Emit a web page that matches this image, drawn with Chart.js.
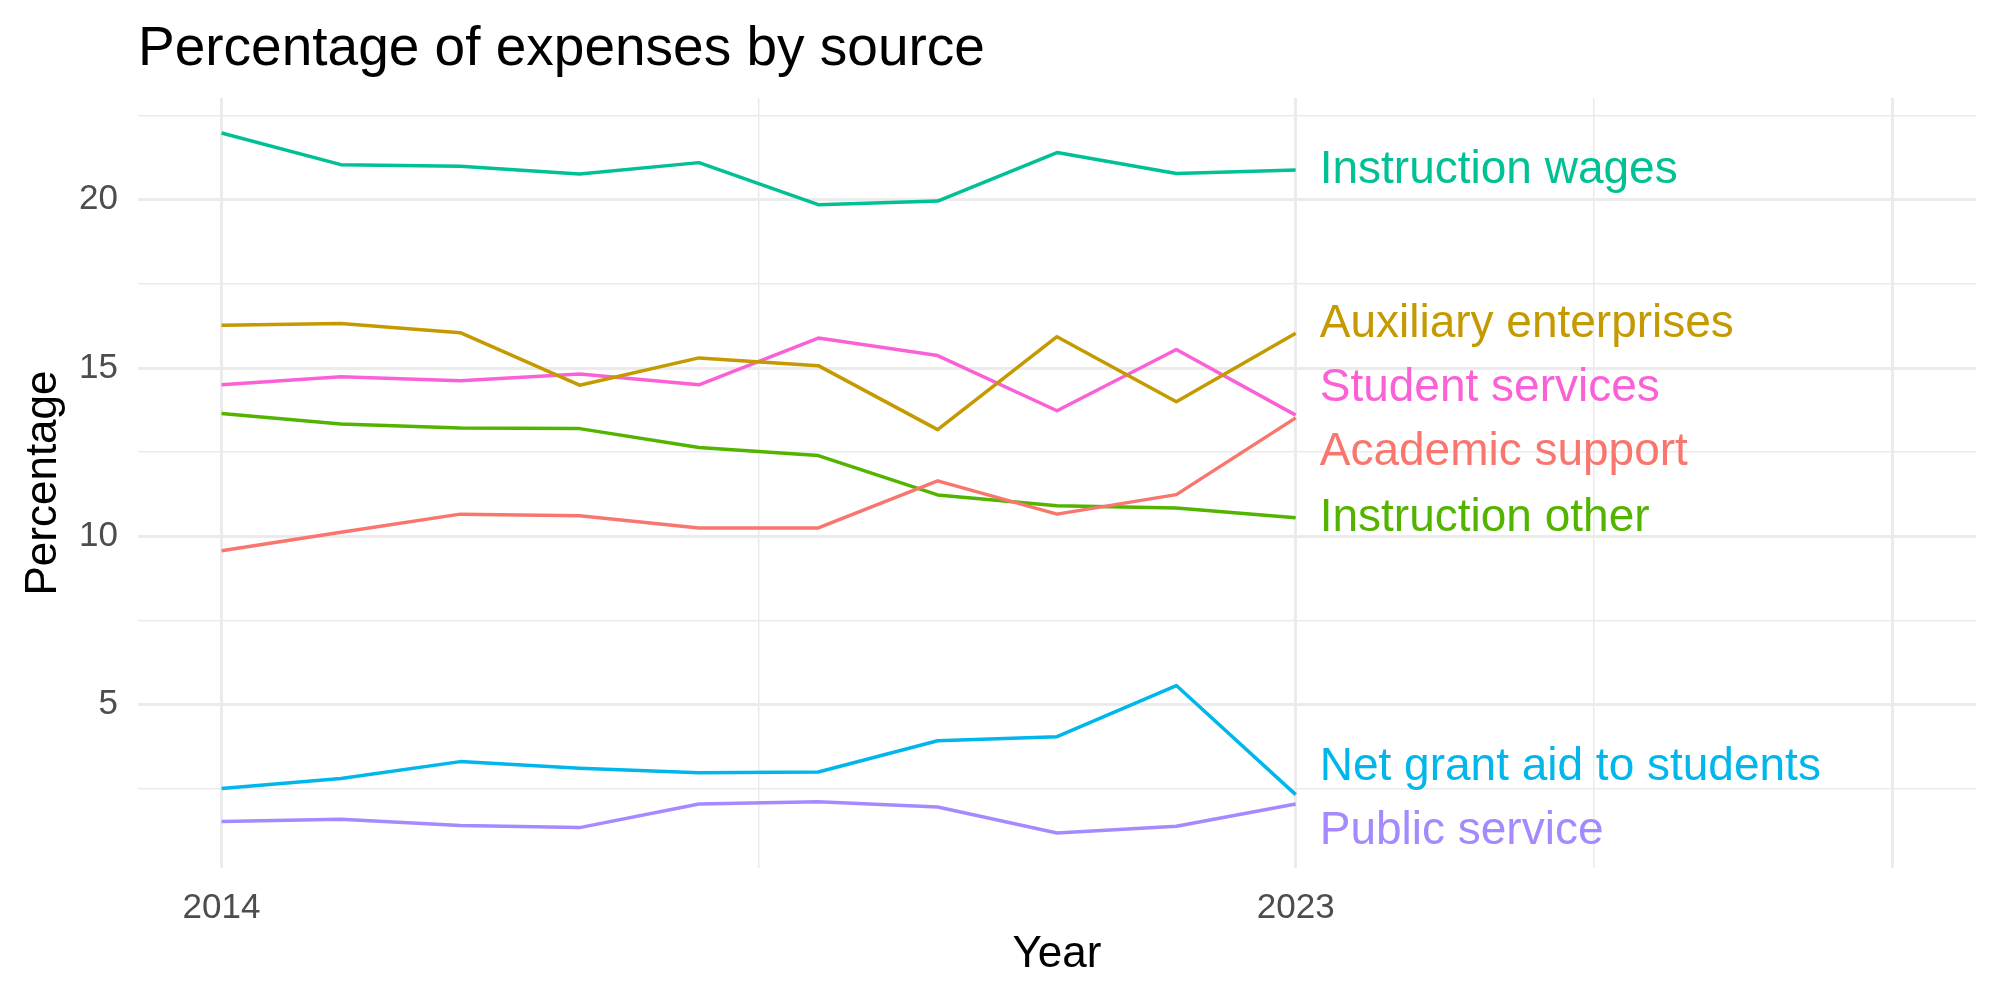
<!DOCTYPE html>
<html>
<head>
<meta charset="utf-8">
<title>Percentage of expenses by source</title>
<script src="https://cdn.jsdelivr.net/npm/chart.js@4.4.1/dist/chart.umd.min.js"></script>
<style>
  html, body { margin: 0; padding: 0; background: #fff; }
  #wrap { width: 2000px; height: 1000px; position: relative; }
</style>
</head>
<body>
<div id="wrap"><canvas id="grafico"></canvas></div>
<script>
// dados
const years = [2014, 2015, 2016, 2017, 2018, 2019, 2020, 2021, 2022, 2023];

const academicSupport  = [9.57, 10.12, 10.66, 10.61, 10.25, 10.25, 11.65, 10.66, 11.24, 13.52];
const auxiliaryEnterp  = [16.27, 16.32, 16.05, 14.49, 15.30, 15.07, 13.17, 15.93, 14.00, 16.03];
const instructionOther = [13.65, 13.34, 13.22, 13.20, 12.64, 12.40, 11.23, 10.91, 10.84, 10.55];
const instructionWages = [21.98, 21.04, 20.99, 20.76, 21.10, 19.85, 19.96, 21.40, 20.78, 20.88];
const netGrantAid      = [2.51, 2.81, 3.31, 3.11, 2.98, 3.00, 3.93, 4.05, 5.57, 2.33];
const publicService    = [1.53, 1.60, 1.41, 1.35, 2.05, 2.12, 1.96, 1.19, 1.39, 2.05];
const studentServices  = [14.50, 14.74, 14.62, 14.82, 14.50, 15.89, 15.37, 13.73, 15.55, 13.60];

const seriesNames = ["Academic support", "Auxiliary enterprises", "Instruction other",
  "Instruction wages", "Net grant aid to students", "Public service", "Student services"];
const seriesValues = [academicSupport, auxiliaryEnterp, instructionOther,
  instructionWages, netGrantAid, publicService, studentServices];
const seriesColors = ["#F8766D", "#C49A00", "#53B400", "#00C094", "#00B6EB", "#A58AFF", "#FB61D7"];

// eixos
const xLimits = [2014, 2028];
const xMajorTicks = [2014, 2023, 2028];
const xMinorTicks = [2018.5, 2025.5];
const xTickLabels = [2014, 2023];
const yMajorTicks = [5, 10, 15, 20];
const yMinorTicks = [2.5, 7.5, 12.5, 17.5, 22.5];

const font = "'Liberation Sans', Arial, sans-serif";

// expansão de 5% como no ggplot
const allVals = seriesValues.flat();
const yLo = Math.min(...allVals), yHi = Math.max(...allVals);
const yPad = (yHi - yLo) * 0.05;
const xPad = (xLimits[1] - xLimits[0]) * 0.05;

const datasets = seriesNames.map((name, i) => ({
  label: name,
  data: years.map((y, j) => ({ x: y, y: seriesValues[i][j] })),
  borderColor: seriesColors[i],
  backgroundColor: seriesColors[i],
  borderWidth: 3.5,
  borderJoinStyle: 'round',
  pointRadius: 0,
  tension: 0,
  fill: false
}));

// rótulos no fim das linhas, afastados na vertical (tipo ggrepel)
const endLabels = {
  id: 'endLabels',
  afterDatasetsDraw(chart) {
    const c = chart.ctx;
    const gap = 64;
    let items = chart.data.datasets.map((ds, i) => {
      const pts = chart.getDatasetMeta(i).data;
      const last = pts[pts.length - 1];
      return { text: ds.label, color: ds.borderColor, x: last.x, y0: last.y, y: last.y };
    });
    items.sort((a, b) => a.y0 - b.y0);
    // agrupa rótulos muito próximos e distribui em volta da média
    let groups = items.map(it => ({ members: [it], center: it.y0 }));
    let changed = true;
    while (changed) {
      changed = false;
      for (let k = 0; k < groups.length - 1; k++) {
        const g1 = groups[k], g2 = groups[k + 1];
        const bottom1 = g1.center + (g1.members.length - 1) * gap / 2;
        const top2 = g2.center - (g2.members.length - 1) * gap / 2;
        if (top2 - bottom1 < gap) {
          const members = g1.members.concat(g2.members);
          const center = members.reduce((s, m) => s + m.y0, 0) / members.length;
          groups.splice(k, 2, { members, center });
          changed = true;
          break;
        }
      }
    }
    groups.forEach(g => {
      const n = g.members.length;
      g.members.forEach((m, k) => { m.y = g.center + (k - (n - 1) / 2) * gap; });
    });
    c.save();
    c.font = "46px " + font;
    c.textAlign = 'left';
    c.textBaseline = 'middle';
    items.forEach(it => {
      c.fillStyle = it.color;
      c.fillText(it.text, it.x + 24, it.y);
    });
    c.restore();
  }
};

new Chart(document.getElementById("grafico"), {
  type: 'line',
  data: { datasets },
  plugins: [endLabels],
  options: {
    responsive: true,
    maintainAspectRatio: false,
    animation: false,
    layout: { padding: { left: 0, right: 24, top: 0, bottom: 0 } },
    plugins: {
      legend: { display: false },
      tooltip: { enabled: false },
      title: {
        display: true,
        text: "Percentage of expenses by source",
        align: 'start',
        fullSize: false,
        color: '#000',
        font: { family: font, size: 55, weight: 'normal' },
        padding: { top: 17, bottom: 15 }
      }
    },
    scales: {
      x: {
        type: 'linear',
        min: xLimits[0] - xPad,
        max: xLimits[1] + xPad,
        afterBuildTicks: s => { s.ticks = xMajorTicks.concat(xMinorTicks).sort((a, b) => a - b).map(v => ({ value: v })); },
        afterFit: s => { s.height = 132; },
        border: { display: false },
        grid: {
          color: '#EBEBEB',
          lineWidth: ctx => (ctx.tick && xMajorTicks.includes(ctx.tick.value)) ? 3 : 1.5,
          drawTicks: false
        },
        ticks: {
          autoSkip: false,
          maxRotation: 0,
          padding: 19,
          color: '#4D4D4D',
          font: { family: font, size: 35 },
          callback: v => xTickLabels.includes(v) ? String(v) : ''
        },
        title: {
          display: true,
          text: 'Year',
          color: '#000',
          font: { family: font, size: 44 },
          padding: { top: 0, bottom: 19 }
        }
      },
      y: {
        type: 'linear',
        min: yLo - yPad,
        max: yHi + yPad,
        afterBuildTicks: s => { s.ticks = yMajorTicks.concat(yMinorTicks).sort((a, b) => a - b).map(v => ({ value: v })); },
        afterFit: s => { s.width = 138; },
        border: { display: false },
        grid: {
          color: '#EBEBEB',
          lineWidth: ctx => (ctx.tick && yMajorTicks.includes(ctx.tick.value)) ? 3 : 1.5,
          drawTicks: false
        },
        ticks: {
          autoSkip: false,
          padding: 20,
          color: '#4D4D4D',
          font: { family: font, size: 35 },
          callback: v => yMajorTicks.includes(v) ? String(v) : ''
        },
        title: {
          display: true,
          text: 'Percentage',
          color: '#000',
          font: { family: font, size: 44 },
          padding: { top: 17, bottom: 0 }
        }
      }
    }
  }
});
</script>
</body>
</html>
